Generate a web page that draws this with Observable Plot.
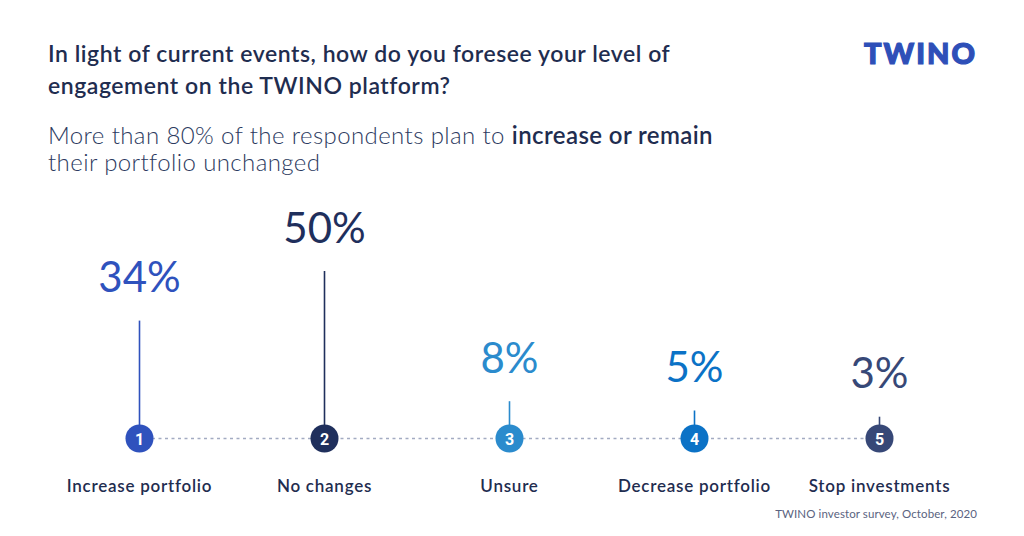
<!DOCTYPE html>
<html>
<head>
<meta charset="utf-8">
<script src="https://cdn.jsdelivr.net/npm/d3@7"></script>
<script src="https://cdn.jsdelivr.net/npm/@observablehq/plot@0.6"></script>
<style>
  html, body { margin: 0; padding: 0; background: #fff; }
  #wrap { position: relative; width: 1024px; height: 536px; overflow: hidden; font-family: Lato, "Open Sans", sans-serif; }
  .title { position: absolute; left: 48px; top: 37px; font-size: 23px; line-height: 32px; font-weight: 600; letter-spacing: 0.55px; color: #1f2d50; }
  .logo { position: absolute; left: 864px; top: 35px; font-family: Lato, sans-serif; font-size: 29px; font-weight: 900; color: #2e4fb8; letter-spacing: 2px; -webkit-text-stroke: 1.2px #2e4fb8; }
  .sub { position: absolute; left: 48px; top: 121px; font-size: 24px; line-height: 27px; font-weight: 300; letter-spacing: 0.4px; color: #2c3a60; }
  .sub b { font-weight: 600; color: #1f2d50; }
  .foot { position: absolute; right: 47px; top: 507px; font-size: 11.5px; letter-spacing: 0.1px; color: #5a6380; }
  #chart { position: absolute; left: 0; top: 200px; }
</style>
</head>
<body>
<div id="wrap">
  <div class="title">In light of current events, how do you foresee your level of<br>engagement on the TWINO platform?</div>
  <div class="logo">TWINO</div>
  <div class="sub">More than 80% of the respondents plan to <b>increase or remain</b><br>their portfolio unchanged</div>
  <div class="foot">TWINO investor survey, October, 2020</div>
  <div id="chart"></div>
</div>
<script>
const categories = ["Increase portfolio", "No changes", "Unsure", "Decrease portfolio", "Stop investments"];
const numbers = ["1", "2", "3", "4", "5"];
const values = [34, 50, 8, 5, 3];
const colors = ["#2f52bd", "#1f2f5c", "#2b8bcd", "#0b72c6", "#374877"];

const data = categories.map((c, i) => ({cat: c, num: numbers[i], value: values[i], label: values[i] + "%"}));
const baseline = [{from: categories[0], to: categories[categories.length - 1], y: 0}];

const plot = Plot.plot({
  width: 1024,
  height: 336,
  marginLeft: 138,
  marginRight: 144,
  marginTop: 0,
  marginBottom: 0,
  x: {type: "point", domain: categories, padding: 0, axis: null},
  y: {domain: [0, 50], range: [238, 83], axis: null},
  color: {domain: categories, range: colors},
  style: {fontFamily: "Lato, 'Open Sans', sans-serif", overflow: "visible"},
  marks: [
    Plot.ruleY(baseline, {y: "y", x1: "from", x2: "to", stroke: "#a3abc2", strokeWidth: 1.5, strokeDasharray: "3,3.5"}),
    Plot.ruleX(data, {x: "cat", y1: "value", y2: 0, stroke: "cat", strokeWidth: 1.6, insetTop: -12}),
    Plot.dot(data, {x: "cat", y: 0, r: 14, fill: "cat", stroke: null}),
    Plot.text(data, {x: "cat", y: 0, text: "num", fill: "white", fontSize: 16, fontWeight: 700, dy: 1, fontFamily: "Roboto, sans-serif"}),
    Plot.text(data, {x: "cat", y: "value", text: "label", fill: "cat", fontSize: 42, fontWeight: 400, lineAnchor: "bottom", dy: -41}),
    Plot.text(data, {x: "cat", y: 0, text: "cat", fill: "#1f2d50", fontSize: 17, fontWeight: 600, lineAnchor: "bottom", dy: 53})
  ]
});
plot.querySelectorAll("g[font-size='17']").forEach(g => g.setAttribute("letter-spacing", "0.75"));
document.getElementById("chart").appendChild(plot);
</script>
</body>
</html>
